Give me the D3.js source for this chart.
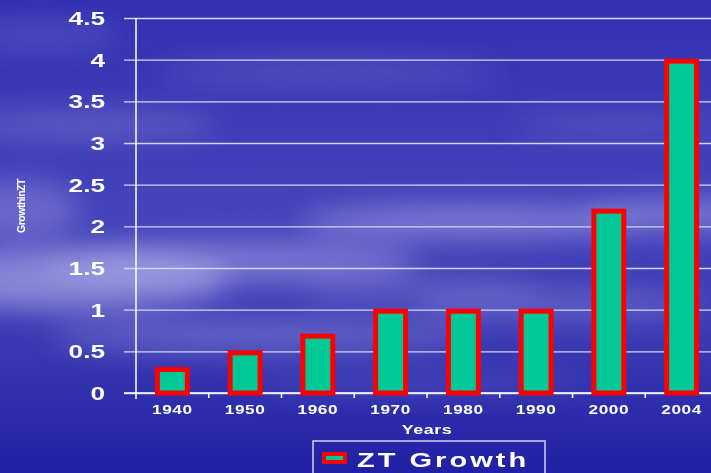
<!DOCTYPE html>
<html>
<head>
<meta charset="utf-8">
<script src="https://cdn.jsdelivr.net/npm/d3@7"></script>
<style>
  body { margin: 0; overflow: hidden; }
  text { font-family: "Liberation Sans", Arial, sans-serif; font-weight: bold; fill: #fff; }
</style>
</head>
<body>
<div class="canvas"></div>
<script>
const years = ['1940', '1950', '1960', '1970', '1980', '1990', '2000', '2004'];
const growth = [0.3, 0.5, 0.7, 1, 1, 1, 2.2, 4];
const yTicks = [0, 0.5, 1, 1.5, 2, 2.5, 3, 3.5, 4, 4.5];

const width = 711, height = 473;
const stretch = 1.38; // the original uses a wide bold face

const svg = d3.select('.canvas')
  .append('svg')
  .attr('width', width)
  .attr('height', height);

// background: deep blue with soft cloud streaks
const defs = svg.append('defs');
const bg = defs.append('linearGradient').attr('id', 'bg')
  .attr('x1', 0).attr('y1', 0).attr('x2', 0).attr('y2', 1);
bg.append('stop').attr('offset', '0%').attr('stop-color', '#3232b2');
bg.append('stop').attr('offset', '45%').attr('stop-color', '#4444bc');
bg.append('stop').attr('offset', '75%').attr('stop-color', '#3838b2');
bg.append('stop').attr('offset', '100%').attr('stop-color', '#2020a4');

defs.append('filter').attr('id', 'blur')
  .attr('x', '-50%').attr('y', '-50%').attr('width', '200%').attr('height', '200%')
  .append('feGaussianBlur').attr('stdDeviation', 14);

svg.append('rect').attr('width', width).attr('height', height).attr('fill', 'url(#bg)');

const clouds = svg.append('g').attr('filter', 'url(#blur)');
const cloudShapes = [
  [60, 280, 170, 30, 0.6], [230, 262, 190, 22, 0.45], [470, 222, 170, 16, 0.5],
  [680, 215, 100, 16, 0.45], [90, 125, 130, 12, 0.3], [330, 72, 170, 10, 0.25],
  [260, 335, 210, 16, 0.35], [560, 305, 150, 14, 0.3], [40, 35, 80, 10, 0.25],
  [420, 385, 180, 8, 0.18], [620, 125, 110, 10, 0.2], [20, 210, 60, 30, 0.3],
  [420, 290, 120, 12, 0.25]
];
clouds.selectAll('ellipse')
  .data(cloudShapes)
  .join('ellipse')
  .attr('cx', d => d[0]).attr('cy', d => d[1])
  .attr('rx', d => d[2]).attr('ry', d => d[3])
  .attr('fill', '#b8b8ee')
  .attr('opacity', d => d[4]);

const margin = { left: 136, top: 18, right: -7, bottom: 80 };
const plotW = width - margin.left - margin.right;
const plotH = height - margin.top - margin.bottom;

const graph = svg.append('g')
  .attr('transform', `translate(${margin.left}, ${margin.top})`);

const x = d3.scaleBand()
  .domain(years)
  .range([0, plotW])
  .paddingInner(0.52)
  .paddingOuter(0.26);

const y = d3.scaleLinear()
  .domain([0, 4.5])
  .range([plotH, 0]);

// gridlines
const yAxis = d3.axisLeft(y)
  .tickValues(yTicks)
  .tickSize(-plotW)
  .tickFormat('');

const yG = graph.append('g').call(yAxis);
yG.select('.domain').remove();
yG.selectAll('.tick line')
  .attr('x1', -12)
  .attr('stroke', '#d4d4f4')
  .attr('stroke-width', 1.4);

// y labels, stretched wide
graph.selectAll('.ylabel')
  .data(yTicks)
  .join('text')
  .attr('class', 'ylabel')
  .attr('transform', d => `translate(-31, ${y(d) + 7}) scale(${stretch}, 1)`)
  .attr('text-anchor', 'end')
  .attr('font-size', 19)
  .text(d3.format('~g'));

// vertical axis line
graph.append('line')
  .attr('x1', 0).attr('x2', 0)
  .attr('y1', 0).attr('y2', plotH + 6)
  .attr('stroke', '#fff').attr('stroke-width', 1.5);

// x axis baseline and ticks between categories
graph.append('line')
  .attr('x1', -12).attr('x2', plotW)
  .attr('y1', plotH).attr('y2', plotH)
  .attr('stroke', '#fff').attr('stroke-width', 1.5);

const gap = (x.step() - x.bandwidth()) / 2;
graph.selectAll('.xtick')
  .data(years.slice(1))
  .join('line')
  .attr('class', 'xtick')
  .attr('x1', d => x(d) - gap)
  .attr('x2', d => x(d) - gap)
  .attr('y1', plotH).attr('y2', plotH + 5)
  .attr('stroke', '#fff').attr('stroke-width', 1.5);

graph.selectAll('.xlabel')
  .data(years)
  .join('text')
  .attr('class', 'xlabel')
  .attr('transform', d => `translate(${x(d) + x.bandwidth() / 2}, ${plotH + 21}) scale(${stretch}, 1)`)
  .attr('text-anchor', 'middle')
  .attr('font-size', 12.5)
  .attr('letter-spacing', 0.4)
  .text(d => d);

// bars
graph.selectAll('.bar')
  .data(years.map((d, i) => ({ year: d, value: growth[i] })))
  .join('rect')
  .attr('class', 'bar')
  .attr('x', d => x(d.year) + 2.5)
  .attr('y', d => y(d.value) + 1.5)
  .attr('width', x.bandwidth() - 5)
  .attr('height', d => plotH - y(d.value) - 1.5)
  .attr('fill', '#00c896')
  .attr('stroke', '#ff0000')
  .attr('stroke-width', 5);

// axis titles
svg.append('text')
  .attr('transform', `translate(427, 434) scale(${stretch}, 1)`)
  .attr('text-anchor', 'middle')
  .attr('font-size', 13)
  .attr('letter-spacing', 0.4)
  .text('Years');

svg.append('text')
  .attr('transform', 'translate(25, 206) rotate(-90)')
  .attr('text-anchor', 'middle')
  .attr('font-size', 10.5)
  .attr('letter-spacing', -0.5)
  .text('GrowthinZT');

// legend
const legend = svg.append('g');
legend.append('rect')
  .attr('x', 313).attr('y', 441)
  .attr('width', 232).attr('height', 40)
  .attr('fill', 'none')
  .attr('stroke', '#d4d4f4')
  .attr('stroke-width', 1.5);
legend.append('rect')
  .attr('x', 324).attr('y', 454)
  .attr('width', 21).attr('height', 8)
  .attr('fill', '#00c896')
  .attr('stroke', '#ff0000')
  .attr('stroke-width', 4);
legend.append('text')
  .attr('transform', `translate(357, 467) scale(${stretch}, 1)`)
  .attr('font-size', 21)
  .attr('letter-spacing', 2.2)
  .text('ZT Growth');
</script>
</body>
</html>
